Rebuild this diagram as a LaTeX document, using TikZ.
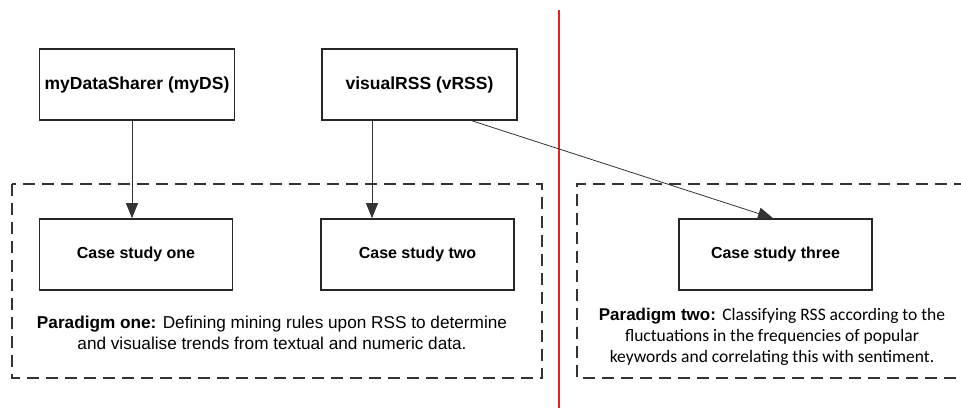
\documentclass[tikz,border=0pt]{standalone}
\usepackage{fontspec}
\setmainfont{Liberation Sans}
\newfontfamily\calib{Carlito}
\usetikzlibrary{arrows.meta}
\definecolor{divred}{RGB}{235,30,30}
\begin{document}
\begin{tikzpicture}[x=1pt,y=-1pt,
  box/.style={draw=black!85,line width=1.6pt,minimum height=71pt,inner sep=0pt},
  topbox/.style={box,minimum width=195pt,font=\bfseries\fontsize{17.5}{21}\selectfont},
  casebox/.style={box,minimum width=193pt,font=\bfseries\fontsize{16}{20}\selectfont},
  group/.style={draw=black!80,line width=1.7pt,dash pattern=on 12pt off 7pt},
  conn/.style={draw=black!80,line width=0.8pt,-{Triangle[length=15pt,width=12pt]}},
  para/.style={font=\fontsize{17.2}{21.5}\selectfont,align=center,inner sep=0pt}]
\useasboundingbox (0,0) rectangle (961,408);
\fill[white] (0,0) rectangle (961,408);
\draw[divred,line width=1.3pt] (559,10) coordinate (rt) -- (559,408) coordinate (rb);
\draw[group] (12,184) coordinate (g1a) rectangle (542,378) coordinate (g1b);
\draw[group] (975,378) coordinate (g2b) -- (577,378) -- (577,184) -- (975,184) coordinate (g2a);
\node[topbox] (ds) at (137,84.5) {myDataSharer (myDS)};
\node[topbox] (vr) at (419.5,84.5) {visualRSS (vRSS)};
\node[casebox] (c1) at (136,254.5) {Case study one};
\node[casebox] (c2) at (417.5,254.5) {Case study two};
\node[casebox] (c3) at (775.5,254.5) {Case study three};
\draw[conn] (ds.south -| 132,0) -- (c1.north -| 132,0);
\draw[conn] (vr.south -| 372,0) -- (c2.north -| 372,0);
\draw[conn] (vr.south -| 472,0) -- (c3.north -| 773,0);
\node[para] (p1) at (272,333) {\textbf{Paradigm one:} Defining mining rules upon RSS to determine\\and visualise trends from textual and numeric data.};
\node[para,font=\fontsize{17}{21.3}\selectfont] (p2) at (772,337) {\textbf{Paradigm two:} {\calib\fontsize{17.5}{21.3}\selectfont Classifying RSS according to the}\\{\calib\fontsize{17.5}{21.3}\selectfont fluctuations in the frequencies of popular}\\{\calib\fontsize{17.5}{21.3}\selectfont keywords and correlating this with sentiment.}};
\end{tikzpicture}
\end{document}
